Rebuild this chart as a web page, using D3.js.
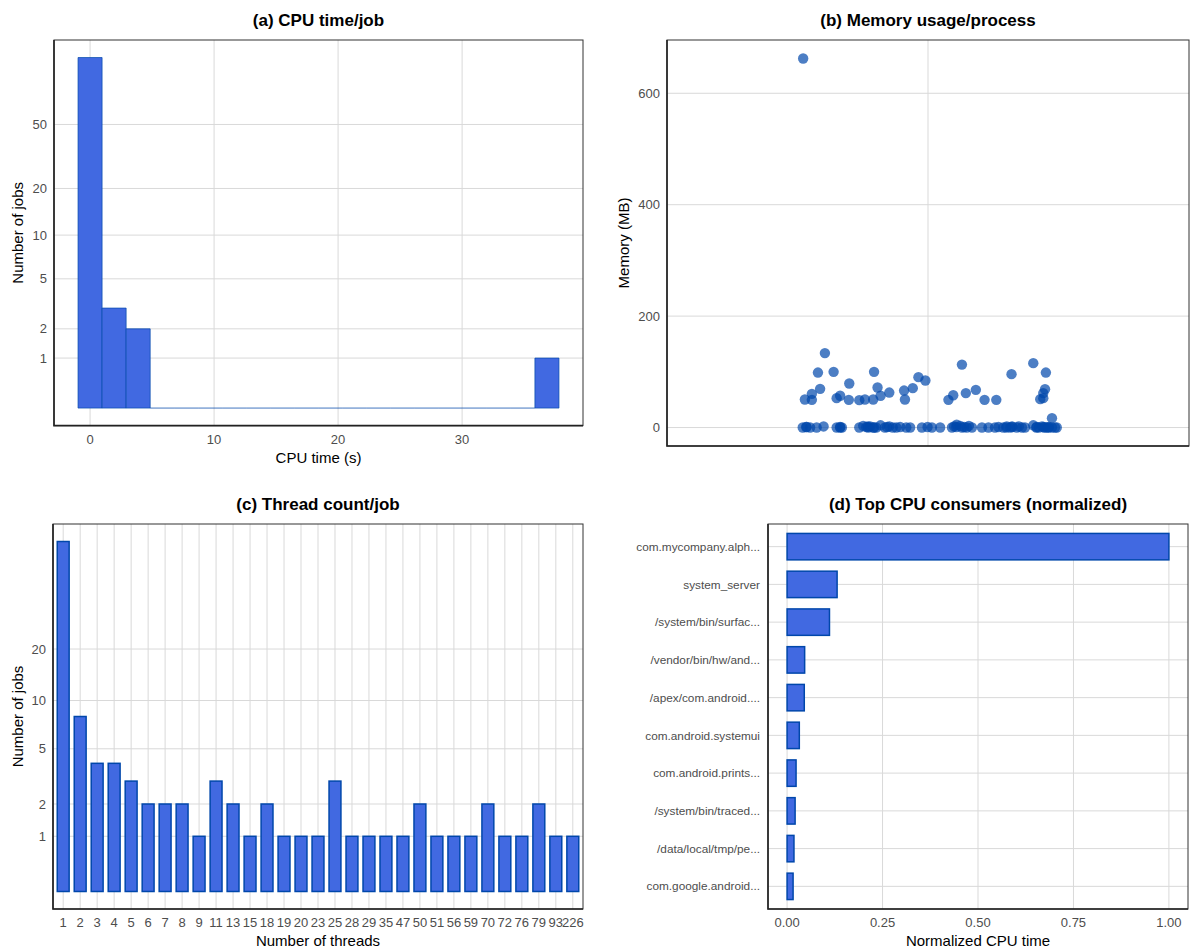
<!DOCTYPE html>
<html lang="en">
<head>
  <meta charset="UTF-8">
  <title>Job profile</title>
  <script src="https://d3js.org/d3.v7.min.js"></script>
  <style>
    html, body { margin: 0; padding: 0; background: #fff; }
    svg { display: block; font-family: "Liberation Sans", Arial, sans-serif; }
    .grid line { stroke: #d9d9d9; stroke-width: 1; }
    .tick-label { fill: #4d4d4d; font-size: 13px; }
    .axis-title { fill: #000; font-size: 15px; }
    .title { fill: #000; font-size: 17px; font-weight: bold; }
  </style>
</head>
<body>
<script>
  const width = 1190;
  const height = 949;

  // (a) CPU time per job: 20 histogram bins over [cpuBinLo, cpuBinHi]
  const cpuBinLo = -0.97;
  const cpuBinHi = 37.81;
  const cpuBinCounts = [128, 3, 2, 0, 0, 0, 0, 0, 0, 0, 0, 0, 0, 0, 0, 0, 0, 0, 0, 1];
  const cpuXTicks = [0, 10, 20, 30];
  const jobTicks = [1, 2, 5, 10, 20, 50];

  // (b) memory per process, x = jitter offset around the single category
  const memJitter = [
    -0.287, -0.237, -0.253, -0.217, -0.124, -0.248, -0.181, -0.116, -0.267, -0.283,
    -0.267, -0.210, -0.202, -0.182, -0.158, -0.145, -0.126, -0.109, -0.089, -0.055,
    -0.053, -0.035, -0.022, -0.006, 0.078, 0.047, 0.058, 0.087, 0.110, 0.130,
    0.157, 0.192, 0.242, 0.271, 0.269, 0.265, 0.258, 0.265, 0.285,
    -0.288, -0.279, -0.271, -0.256, -0.240, -0.210, -0.202, -0.198, -0.158, -0.149,
    -0.142, -0.137, -0.133, -0.126, -0.119, -0.109, -0.099, -0.094, -0.089, -0.081,
    -0.073, -0.064, -0.050, -0.041, -0.014, -0.001, 0.009, 0.028, 0.055, 0.060,
    0.066, 0.078, 0.083, 0.089, 0.094, 0.101, 0.124, 0.139, 0.154, 0.162,
    0.173, 0.181, 0.189, 0.194, 0.204, 0.209, 0.216, 0.223, 0.242, 0.250,
    0.255, 0.262, 0.267, 0.273, 0.278, 0.285, 0.296,
    -0.280, -0.202, -0.138, -0.124, 0.065, 0.074, 0.180, 0.193, 0.249, 0.266, 0.277, 0.292
  ];
  const memMB = [
    662.5, 133.6, 98.7, 100, 100, 69.5, 79, 71.8, 60.5, 50.3,
    49.7, 52.8, 57, 49.7, 49.2, 50.3, 50.3, 57, 62.8, 66.4,
    50.3, 70.7, 90.5, 84.4, 113, 49.7, 58, 61.8, 67.7, 49.7,
    49.7, 95.8, 115.6, 98.7, 68.9, 61.8, 51, 52.8, 16.9,
    0, 1, 0, 0, 2, 0, 1, 0, 0, 3,
    1, 0, 2, 0, 0, 4, 0, 1, 2, 0,
    0, 1, 0, 0, 0, 1, 0, 0, 0, 2,
    5, 0, 1, 0, 3, 0, 0, 0, 0, 1,
    0, 2, 0, 1, 0, 2, 0, 0, 4, 1,
    0, 2, 0, 0, 1, 0, 0,
    1, 0, 2, 0, 1, 3, 0, 2, 0, 1, 0, 0
  ];
  const memTicks = [0, 200, 400, 600];

  // (c) thread count per job
  const threadCats = ['1', '2', '3', '4', '5', '6', '7', '8', '9', '11', '13', '15', '18', '19', '20',
    '23', '25', '28', '29', '35', '47', '50', '51', '56', '59', '70', '72', '76', '79', '93', '226'];
  const threadCounts = [80, 8, 4, 4, 3, 2, 2, 2, 1, 3, 2, 1, 2, 1, 1,
    1, 3, 1, 1, 1, 1, 2, 1, 1, 1, 2, 1, 1, 2, 1, 1];
  const threadYTicks = [1, 2, 5, 10, 20];

  // (d) top CPU consumers
  const procNames = ['com.mycompany.alph...', 'system_server', '/system/bin/surfac...',
    '/vendor/bin/hw/and...', '/apex/com.android....', 'com.android.systemui',
    'com.android.prints...', '/system/bin/traced...', '/data/local/tmp/pe...', 'com.google.android...'];
  const procCpu = [1.0, 0.131, 0.111, 0.046, 0.045, 0.032, 0.0235, 0.021, 0.018, 0.0157];
  const normTicks = [0, 0.25, 0.5, 0.75, 1.0];

  const fill = '#4169E1';
  const edge = '#0047AB';

  const svg = d3.select('body').append('svg')
    .attr('width', width).attr('height', height);

  const log1 = v => Math.log10(v + 1);

  function frame(p) {
    svg.append('rect')
      .attr('x', p.left).attr('y', p.top)
      .attr('width', p.right - p.left).attr('height', p.bottom - p.top)
      .attr('fill', 'none').attr('stroke', '#333').attr('stroke-width', 1);
    svg.append('path')
      .attr('d', `M${p.left},${p.top}V${p.bottom}H${p.right}`)
      .attr('fill', 'none').attr('stroke', '#222').attr('stroke-width', 1.6);
  }

  function title(p, text) {
    svg.append('text').attr('class', 'title')
      .attr('x', (p.left + p.right) / 2).attr('y', p.top - 14)
      .attr('text-anchor', 'middle').text(text);
  }

  function yTitle(x, p, text) {
    svg.append('text').attr('class', 'axis-title')
      .attr('transform', `translate(${x},${(p.top + p.bottom) / 2}) rotate(-90)`)
      .attr('text-anchor', 'middle').attr('dy', '0.35em').text(text);
  }

  function xTitle(p, y, text) {
    svg.append('text').attr('class', 'axis-title')
      .attr('x', (p.left + p.right) / 2).attr('y', y)
      .attr('text-anchor', 'middle').text(text);
  }

  function hGrid(p, vals, y) {
    svg.append('g').attr('class', 'grid').selectAll('line').data(vals).join('line')
      .attr('x1', p.left).attr('x2', p.right)
      .attr('y1', d => y(d)).attr('y2', d => y(d));
  }

  function vGrid(p, vals, x) {
    svg.append('g').attr('class', 'grid').selectAll('line').data(vals).join('line')
      .attr('y1', p.top).attr('y2', p.bottom)
      .attr('x1', d => x(d)).attr('x2', d => x(d));
  }

  function yLabels(p, vals, y, fmt) {
    svg.append('g').selectAll('text').data(vals).join('text')
      .attr('class', 'tick-label')
      .attr('x', p.left - 7).attr('y', d => y(d)).attr('dy', '0.35em')
      .attr('text-anchor', 'end').text(fmt || (d => d));
  }

  function xLabels(p, vals, x, fmt) {
    svg.append('g').selectAll('text').data(vals).join('text')
      .attr('class', 'tick-label')
      .attr('x', d => x(d)).attr('y', p.bottom + 18)
      .attr('text-anchor', 'middle').text(fmt || (d => d));
  }

  // ---------- (a) ----------
  {
    const p = {left: 54, right: 583, top: 40, bottom: 425.6};
    const span = cpuBinHi - cpuBinLo;
    const x = d3.scaleLinear().domain([cpuBinLo - 0.05 * span, cpuBinHi + 0.05 * span]).range([p.left, p.right]);
    const m = log1(d3.max(cpuBinCounts));
    const yT = d3.scaleLinear().domain([-0.05 * m, 1.05 * m]).range([p.bottom, p.top]);
    const y = v => yT(log1(v));
    const bw = span / cpuBinCounts.length;

    hGrid(p, jobTicks, y);
    vGrid(p, cpuXTicks, x);

    svg.append('g').selectAll('path').data(cpuBinCounts).join('path')
      .attr('d', (d, i) => {
        const x0 = x(cpuBinLo + i * bw), x1 = x(cpuBinLo + (i + 1) * bw);
        return `M${x0},${y(0)}H${x1}V${y(d)}H${x0}Z`;
      })
      .attr('fill', fill).attr('stroke', edge).attr('stroke-width', 0.7)
      .attr('stroke-opacity', d => d === 0 ? 0.6 : 1);

    frame(p);
    yLabels(p, jobTicks, y);
    xLabels(p, cpuXTicks, x);
    xTitle(p, 463, 'CPU time (s)');
    yTitle(18, p, 'Number of jobs');
    title(p, '(a) CPU time/job');
  }

  // ---------- (b) ----------
  {
    const p = {left: 667, right: 1189, top: 40, bottom: 446};
    const x = d3.scaleLinear().domain([0.4, 1.6]).range([p.left, p.right]);
    const lo = d3.min(memMB), hi = d3.max(memMB), span = hi - lo;
    const y = d3.scaleLinear().domain([lo - 0.05 * span, hi + 0.05 * span]).range([p.bottom, p.top]);

    hGrid(p, memTicks, y);
    vGrid(p, [1], x);

    svg.append('g').selectAll('circle').data(memMB).join('circle')
      .attr('cx', (d, i) => x(1 + memJitter[i]))
      .attr('cy', d => y(d))
      .attr('r', 5.2)
      .attr('fill', edge).attr('fill-opacity', 0.7);

    frame(p);
    yLabels(p, memTicks, y);
    yTitle(624, p, 'Memory (MB)');
    title(p, '(b) Memory usage/process');
  }

  // ---------- (c) ----------
  {
    const p = {left: 53, right: 583, top: 524, bottom: 909};
    const x = d3.scaleBand().domain(threadCats).range([p.left, p.right])
      .paddingInner(0.3).paddingOuter(0.25);
    const m = log1(d3.max(threadCounts));
    const yT = d3.scaleLinear().domain([-0.05 * m, 1.05 * m]).range([p.bottom, p.top]);
    const y = v => yT(log1(v));
    const cx = d => x(d) + x.bandwidth() / 2;

    hGrid(p, threadYTicks, y);
    vGrid(p, threadCats, cx);

    svg.append('g').selectAll('rect').data(threadCounts).join('rect')
      .attr('x', (d, i) => x(threadCats[i]))
      .attr('width', x.bandwidth())
      .attr('y', d => y(d))
      .attr('height', d => y(0) - y(d))
      .attr('fill', fill).attr('stroke', edge).attr('stroke-width', 1.5);

    frame(p);
    yLabels(p, threadYTicks, y);
    xLabels(p, threadCats, cx);
    xTitle(p, 946, 'Number of threads');
    yTitle(18, p, 'Number of jobs');
    title(p, '(c) Thread count/job');
  }

  // ---------- (d) ----------
  {
    const p = {left: 768, right: 1188, top: 524, bottom: 909};
    const x = d3.scaleLinear().domain([-0.05, 1.05]).range([p.left, p.right]);
    const y = d3.scaleBand().domain(procNames).range([p.top, p.bottom])
      .paddingInner(0.3).paddingOuter(0.25);
    const cy = d => y(d) + y.bandwidth() / 2;

    hGrid(p, procNames, cy);
    vGrid(p, normTicks, x);

    svg.append('g').selectAll('rect').data(procCpu).join('rect')
      .attr('x', x(0))
      .attr('y', (d, i) => y(procNames[i]))
      .attr('width', d => x(d) - x(0))
      .attr('height', y.bandwidth())
      .attr('fill', fill).attr('stroke', edge).attr('stroke-width', 1.5);

    frame(p);
    svg.append('g').selectAll('text').data(procNames).join('text')
      .attr('class', 'tick-label').style('font-size', '11.8px')
      .attr('x', p.left - 8).attr('y', d => cy(d)).attr('dy', '0.35em')
      .attr('text-anchor', 'end').text(d => d);
    xLabels(p, normTicks, x, d3.format('.2f'));
    xTitle(p, 946, 'Normalized CPU time');
    title(p, '(d) Top CPU consumers (normalized)');
  }
</script>
</body>
</html>
